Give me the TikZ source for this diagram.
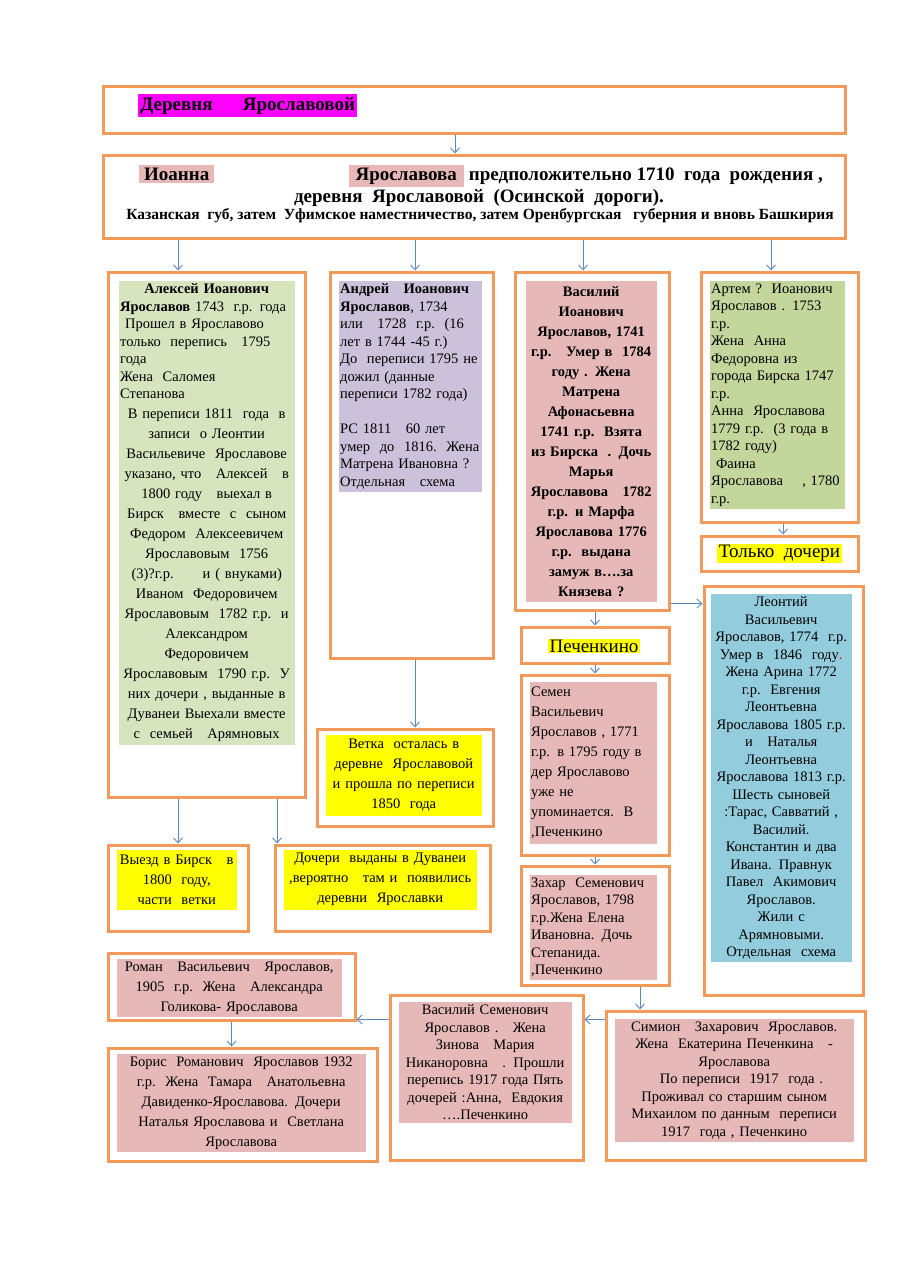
\documentclass[tikz,border=0pt]{standalone}
\usepackage{fontspec}
\setmainfont{Liberation Serif}
\usepackage{xcolor}
\usepackage{tikz}
\usetikzlibrary{positioning, arrows.meta}
\definecolor{boxorange}{HTML}{F39A5A}
\definecolor{linkblue}{HTML}{5B86C0}
\definecolor{rosefill}{HTML}{E6B9B8}
\definecolor{sagefill}{HTML}{D7E4BD}
\definecolor{leaffill}{HTML}{C3D69B}
\definecolor{lilacfill}{HTML}{CCC1DA}
\definecolor{skyfill}{HTML}{93CDDD}
\definecolor{markyellow}{HTML}{FFFF00}
\definecolor{markmagenta}{HTML}{FF00FF}
\newcommand\bodyfont{\fontsize{14.5}{17.5}\selectfont}
\newcommand\loosefont{\fontsize{14.5}{20}\selectfont}
\newcommand\titlefont{\fontsize{19}{21}\selectfont\bfseries}
\newcommand\regionfont{\fontsize{15.5}{17}\selectfont\bfseries}
\newcommand\tagfont{\fontsize{19}{22}\selectfont}

\begin{document}
\begin{tikzpicture}[x=1pt, y=-1pt,
  obox/.style={draw=boxorange, line width=3pt, inner sep=0pt},
  panel/.style={inner xsep=1.5pt, inner ysep=3pt, font=\bodyfont},
  lpanel/.style={panel, font=\loosefont},
  hilite/.style={inner xsep=2pt, inner ysep=3pt},
  arr/.style={draw=linkblue, line width=0.9pt, -{Straight Barb[length=5pt, width=9pt]}}]

\useasboundingbox[fill=white] (0,0) rectangle (905,1280);

% header
\node[obox, minimum width=742pt, minimum height=47pt] (village) at (474,109.5) {};
\node[hilite, fill=markmagenta, anchor=base west, font=\titlefont, minimum width=219pt, align=left] (villageName) at (138,110) {Деревня\hspace{1.6em}Ярославовой\hfill};

\node[obox, minimum width=742pt, minimum height=83pt] (ioanna) at (474,196.5) {};
\node[hilite, fill=rosefill, anchor=base west, font=\titlefont, minimum width=75pt, align=left] (ioFirst) at (139,180) {Иоанна\hfill};
\node[hilite, fill=rosefill, anchor=base east, font=\titlefont, minimum width=115pt, align=right] (ioLast) at (464,180) {\hfill Ярославова};
\node[inner sep=0pt, anchor=base west, font=\titlefont] (ioBirth) at (ioLast.base east) {\ предположительно 1710\ \ года\ \ рождения ,};
\node[font=\titlefont] (ioPlace) at (479,198) {деревня\ \ Ярославовой\ \ (Осинской\ \ дороги).};
\node[font=\regionfont] (ioRegion) at (480,216) {Казанская\ \ губ, затем\ \ Уфимское наместничество, затем Оренбургская\ \ \ губерния и вновь Башкирия};

% sons of Ioanna
\node[obox, minimum width=197pt, minimum height=525pt] (alexey) at (206.5,534.5) {};
\node[panel, fill=sagefill, text width=173pt, minimum height=463pt, below right=10pt and 12pt of alexey.north west] (alexeyTxt) {%
  {\centering\textbf{Алексей Иоанович}\par}
  {\raggedright\textbf{Ярославов} 1743\ \ г.р. года\\
  \ Прошел в Ярославово\\
  только\ \ перепись\ \ \ 1795\\
  года\\
  Жена\ \ Саломея\\
  Степанова\par}
  {\loosefont\centering В переписи 1811\ \ года\ \ в\\
  записи\ \ о Леонтии\\
  Васильевиче\ \ Ярославове\\
  указано, что\ \ \ Алексей\ \ \ в\\
  1800 году\ \ \ выехал в\\
  Бирск\ \ \ вместе\ \ с\ \ сыном\\
  Федором\ \ Алексеевичем\\
  Ярославовым\ \ 1756\\
  (3)?г.р.\qquad и ( внуками)\\
  Иваном\ \ Федоровичем\\
  Ярославовым\ \ 1782 г.р.\ \ и\\
  Александром\\
  Федоровичем\\
  Ярославовым\ \ 1790 г.р.\ \ У\\
  них дочери , выданные в\\
  Дуванеи Выехали вместе\\
  с\ \ семьей\ \ \ Арямновых\par}};

\node[obox, minimum width=163pt, minimum height=386pt] (andrey) at (411.5,465) {};
\node[panel, fill=lilacfill, text width=140pt, minimum height=210pt, align=left, below right=10pt and 10pt of andrey.north west] (andreyTxt) {%
  \textbf{Андрей\ \ \ Иоанович}\\
  \textbf{Ярославов}, 1734\\
  или\ \ \ 1728\ \ г.р.\ \ (16\\
  лет в 1744 -45 г.)\\
  До\ \ переписи 1795 не\\
  дожил (данные\\
  переписи 1782 года)\\[17.5pt]
  РС 1811\quad 60 лет\\
  умер\ \ до\ \ 1816.\ \ Жена\\
  Матрена Ивановна ?\\
  Отдельная\quad схема};

\node[obox, minimum width=154pt, minimum height=338pt] (vasily) at (592,441) {};
\node[lpanel, fill=rosefill, text width=128pt, minimum height=321pt, align=center, below right=10pt and 12pt of vasily.north west, font=\loosefont\bfseries] (vasilyTxt) {%
  Василий\\
  Иоанович\\
  Ярославов, 1741\\
  г.р.\ \ \ Умер в\ \ 1784\\
  году . Жена\\
  Матрена\\
  Афонасьевна\\
  1741 г.р.\ \ Взята\\
  из Бирска\ \ . Дочь\\
  Марья\\
  Ярославова\ \ \ 1782\\
  г.р. и Марфа\\
  Ярославова 1776\\
  г.р.\ \ выдана\\
  замуж в….за\\
  Князева ?};

\node[obox, minimum width=157pt, minimum height=250pt] (artem) at (779.5,397) {};
\node[panel, fill=leaffill, text width=132pt, minimum height=226pt, align=left, below right=10pt and 10pt of artem.north west] (artemTxt) {%
  Артем ?\ \ Иоанович\\
  Ярославов . 1753\\
  г.р.\\
  Жена\ \ Анна\\
  Федоровна из\\
  города Бирска 1747\\
  г.р.\\
  Анна\ \ Ярославова\\
  1779 г.р.\ \ (3 года в\\
  1782 году)\\
  \ Фаина\\
  Ярославова\ \ \ \ , 1780\\
  г.р.};

\node[obox, minimum width=157pt, minimum height=35pt] (daughters) at (779.5,553.5) {};
\node[hilite, fill=markyellow, font=\tagfont, inner ysep=1pt] (daughtersTag) at (779.5,553.5) {Только\ \ дочери};

% line of Vasily
\node[obox, minimum width=159pt, minimum height=409pt] (leontiy) at (783.5,790.5) {};
\node[panel, fill=skyfill, text width=138pt, minimum height=366pt, align=center, below right=9pt and 8pt of leontiy.north west] (leontiyTxt) {%
  Леонтий\\
  Васильевич\\
  Ярославов, 1774\ \ г.р.\\
  Умер в\ \ 1846\ \ году\textcolor{red}{.}\\
  Жена Арина 1772\\
  г.р.\ \ Евгения\\
  Леонтьевна\\
  Ярославова 1805 г.р.\\
  и\ \ \ Наталья\\
  Леонтьевна\\
  Ярославова 1813 г.р.\\
  Шесть сыновей\\
  :Тарас, Савватий ,\\
  Василий.\\
  Константин и два\\
  Ивана. Правнук\\
  Павел\ \ Акимович\\
  Ярославов.\\
  Жили с\\
  Арямновыми.\\
  Отдельная\ \ схема};

\node[obox, minimum width=148pt, minimum height=36pt] (pechenkino) at (595,645) {};
\node[hilite, fill=markyellow, font=\tagfont, inner ysep=1pt] (pechenkinoTag) at (594,646) {Печенкино};

\node[obox, minimum width=148pt, minimum height=180pt] (semen) at (595,765) {};
\node[lpanel, fill=rosefill, text width=124pt, minimum height=162pt, align=left, below right=8pt and 10pt of semen.north west] (semenTxt) {%
  Семен\\
  Васильевич\\
  Ярославов , 1771\\
  г.р. в 1795 году в\\
  дер Ярославово\\
  уже не\\
  упоминается.\ \ В\\
  ,Печенкино};

\node[obox, minimum width=148pt, minimum height=119pt] (zakhar) at (595,925.5) {};
\node[panel, fill=rosefill, text width=124pt, minimum height=102pt, align=left, below right=10pt and 10pt of zakhar.north west] (zakharTxt) {%
  Захар\ \ Семенович\\
  Ярославов, 1798\\
  г.р.Жена Елена\\
  Ивановна. Дочь\\
  Степанида.\\
  ,Печенкино};

\node[obox, minimum width=259pt, minimum height=149pt] (simion) at (735.5,1085.5) {};
\node[panel, fill=rosefill, text width=236pt, minimum height=121pt, align=center, below right=9pt and 10pt of simion.north west] (simionTxt) {%
  Симион\ \ \ Захарович\ \ Ярославов.\\
  Жена\ \ Екатерина Печенкина\ \ \ -\\
  Ярославова\\
  \ \ \ По переписи\ \ 1917\ \ года .\\
  Проживал со старшим сыном\\
  Михаилом по данным\ \ переписи\\
  1917\ \ года , Печенкино};

\node[obox, minimum width=193pt, minimum height=165pt] (vasSem) at (486.5,1077.5) {};
\node[panel, fill=rosefill, text width=170pt, minimum height=121pt, align=center, below right=8pt and 10pt of vasSem.north west] (vasSemTxt) {%
  Василий Семенович\\
  Ярославов .\ \ \ Жена\\
  Зинова\ \ \ Мария\\
  Никаноровна\ \ \ . Прошли\\
  перепись 1917 года Пять\\
  дочерей :Анна,\ \ Евдокия\\
  ….Печенкино};

\node[obox, minimum width=247pt, minimum height=67pt] (roman) at (231.5,986.5) {};
\node[lpanel, fill=rosefill, text width=222pt, minimum height=53pt, align=center, below right=7pt and 10pt of roman.north west] (romanTxt) {%
  Роман\ \ \ Васильевич\ \ \ Ярославов,\\
  1905\ \ г.р.\ \ Жена\ \ \ Александра\\
  Голикова- Ярославова};

\node[obox, minimum width=269pt, minimum height=113pt] (boris) at (242.5,1104.5) {};
\node[lpanel, fill=rosefill, text width=246pt, minimum height=95pt, align=center, below right=7pt and 10pt of boris.north west] (borisTxt) {%
  Борис\ \ Романович\ \ Ярославов 1932\\
  г.р.\ \ Жена\ \ Тамара\ \ \ Анатольевна\\
  Давиденко-Ярославова. Дочери\\
  Наталья Ярославова и\ \ Светлана\\
  Ярославова};

% leaves
\node[obox, minimum width=176pt, minimum height=97pt] (vetka) at (405,777.5) {};
\node[lpanel, fill=markyellow, text width=153pt, minimum height=81pt, align=center, below right=7pt and 10pt of vetka.north west] (vetkaTxt) {%
  Ветка\ \ осталась в\\
  деревне\ \ Ярославовой\\
  и прошла по переписи\\
  1850\ \ года};

\node[obox, minimum width=140pt, minimum height=86pt] (vyezd) at (178,888) {};
\node[lpanel, fill=markyellow, text width=117pt, minimum height=60pt, align=center, below right=6pt and 10pt of vyezd.north west] (vyezdTxt) {%
  Выезд в Бирск\ \ \ в\\
  1800\ \ году,\\
  части\ \ ветки};

\node[obox, minimum width=215pt, minimum height=86pt] (dochery) at (382.5,888) {};
\node[lpanel, fill=markyellow, text width=190pt, minimum height=60pt, align=center, below right=6pt and 10pt of dochery.north west] (docheryTxt) {%
  Дочери\ \ выданы в Дуванеи\\
  ,вероятно\ \ \ там и\ \ появились\\
  деревни\ \ Ярославки};

% connectors
\draw[arr] ([xshift=-19pt]village.south) -- ([xshift=-19pt]ioanna.north);
\draw[arr] ([xshift=-28.5pt]alexey.north |- ioanna.south) -- ([xshift=-28.5pt]alexey.north);
\draw[arr] ([xshift=3.5pt]andrey.north |- ioanna.south) -- ([xshift=3.5pt]andrey.north);
\draw[arr] ([xshift=-9pt]vasily.north |- ioanna.south) -- ([xshift=-9pt]vasily.north);
\draw[arr] ([xshift=-8.5pt]artem.north |- ioanna.south) -- ([xshift=-8.5pt]artem.north);
\draw[arr] ([xshift=3.5pt]artem.south) -- ([xshift=3.5pt]daughters.north);
\draw[arr] ([yshift=8pt]vasily.south east) -- ([yshift=8pt]vasily.south east -| leontiy.west);
\draw[arr] (pechenkino.north |- vasily.south) -- (pechenkino.north);
\draw[arr] (pechenkino.south) -- (semen.north);
\draw[arr] (semen.south) -- (zakhar.north);
\draw[arr] ([xshift=45pt]zakhar.south) -- ([xshift=45pt]zakhar.south |- simion.north);
\draw[arr] ([yshift=-10pt]simion.north west) -- ([yshift=-10pt]simion.north west -| vasSem.east);
\draw[arr] ([yshift=-26pt]vasSem.north west) -- ([yshift=-26pt]vasSem.north west -| roman.east);
\draw[arr] (roman.south) -- (roman.south |- boris.north);
\draw[arr] ([xshift=3.5pt]andrey.south) -- ([xshift=3.5pt]andrey.south |- vetka.north);
\draw[arr] (vyezd.north |- alexey.south) -- (vyezd.north);
\draw[arr] ([xshift=70.5pt]alexey.south) -- ([xshift=70.5pt]alexey.south |- dochery.north);
\end{tikzpicture}
\end{document}
